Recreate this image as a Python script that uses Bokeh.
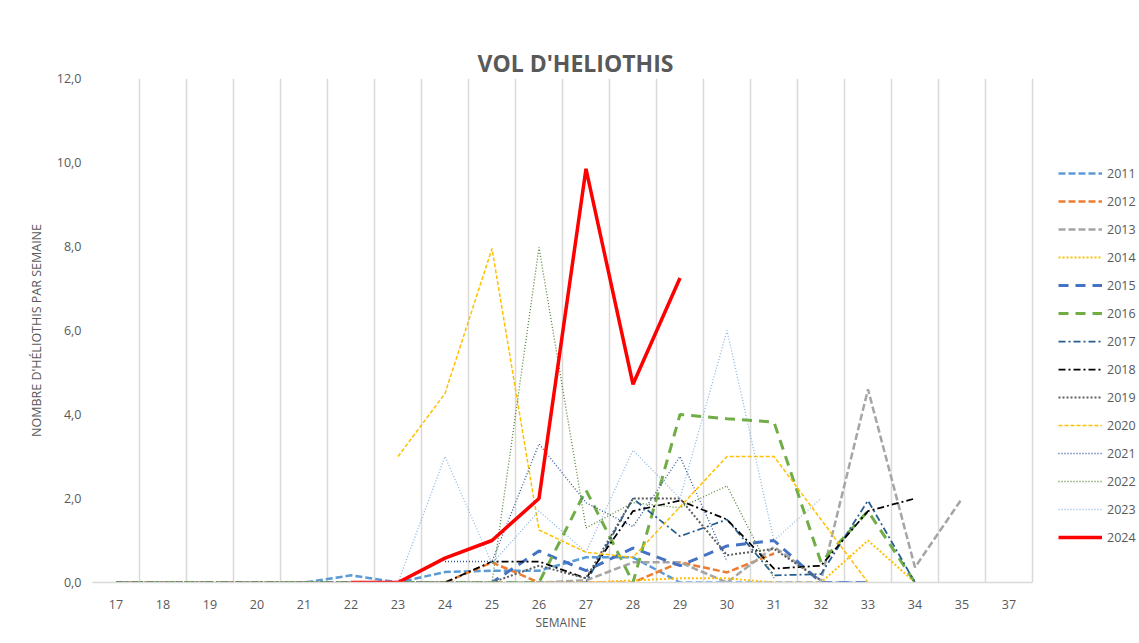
from bokeh.plotting import figure
from bokeh.models import (Range1d, FixedTicker, CustomJSTickFormatter, Legend, LegendItem, Title)
from bokeh.embed import file_html
from bokeh.resources import INLINE

N = float("nan")

weeks = ["17", "18", "19", "20", "21", "22", "23", "24", "25", "26",
         "27", "28", "29", "30", "31", "32", "33", "34", "35", "37"]

#          17 18 19 20 21 22    23    24    25    26    27    28    29    30    31    32    33   34    35   37
y2011 = [0, 0, 0, 0, 0, 0.17, 0.0, 0.25, 0.28, 0.28, 0.6, 0.6, 0, 0, 0, 0, 0, N, N, N]
y2012 = [0, 0, 0, 0, 0, 0, 0, 0, 0.48, 0, 0, 0, 0.48, 0.24, 0.69, N, N, N, N, N]
y2013 = [0, 0, 0, 0, 0, 0, 0, 0, 0, 0, 0.05, 0.48, 0.48, 0, 0.85, 0.05, 4.6, 0.36, 2.0, N]
y2014 = [0, 0, 0, 0, 0, 0, 0, 0, 0, 0, 0, 0.05, 0.1, 0.1, 0, 0, 1.0, 0, N, N]
y2015 = [0, 0, 0, 0, 0, 0, 0, 0, 0, 0.75, 0.28, 0.82, 0.4, 0.87, 1.0, 0, 0, N, N, N]
y2016 = [0, 0, 0, 0, 0, 0, 0, 0, 0, 0, 2.2, 0, 4.0, 3.9, 3.82, 0.48, 1.7, 0, N, N]
y2017 = [0, 0, 0, 0, 0, 0, 0, 0, 0, 0, 0, 2.0, 1.1, 1.5, 0.17, 0.2, 1.95, 0, N, N]
y2018 = [0, 0, 0, 0, 0, 0, 0, 0, 0.5, 0.5, 0.1, 1.7, 1.95, 1.5, 0.33, 0.4, 1.7, 2.0, N, N]
y2019 = [0, 0, 0, 0, 0, 0, 0, 0, 0, 0.4, 0.1, 2.0, 2.0, 0.65, 0.8, 0.05, N, N, N, N]
y2020 = [N, N, N, N, N, N, 3.0, 4.5, 7.95, 1.25, 0.72, 0.6, 1.8, 3.0, 3.0, 1.5, 0, N, N, N]
y2021 = [N, N, N, N, N, N, N, 0.5, 0.5, 3.3, 1.9, 1.33, 3.0, 0.5, N, N, N, N, N, N]
y2022 = [0, 0, 0, 0, 0, 0, 0, 0, 0, 7.98, 1.3, 1.9, 1.78, 2.3, 0.1, N, N, N, N, N]
y2023 = [N, N, N, N, N, N, 0, 3.0, 0.45, 1.7, 0.72, 3.15, 2.0, 6.0, 1.0, 2.0, N, N, N, N]
y2024 = [N, N, N, N, N, 0, 0, 0.58, 1.0, 2.0, 9.85, 4.72, 7.25, N, N, N, N, N, N, N]

years = ["2011", "2012", "2013", "2014", "2015", "2016", "2017",
         "2018", "2019", "2020", "2021", "2022", "2023", "2024"]
series = [y2011, y2012, y2013, y2014, y2015, y2016, y2017,
          y2018, y2019, y2020, y2021, y2022, y2023, y2024]

styles = {
    "2011": dict(line_color="#5B9BD5", line_width=2.5, line_dash="7 3"),
    "2012": dict(line_color="#ED7D31", line_width=2.5, line_dash="7 3"),
    "2013": dict(line_color="#A5A5A5", line_width=2.5, line_dash="7 3"),
    "2014": dict(line_color="#FFC000", line_width=2.0, line_dash="2 2"),
    "2015": dict(line_color="#4472C4", line_width=3.0, line_dash="10 7"),
    "2016": dict(line_color="#70AD47", line_width=3.0, line_dash="10 7"),
    "2017": dict(line_color="#255E91", line_width=1.75, line_dash="7 3 2 3"),
    "2018": dict(line_color="#000000", line_width=1.75, line_dash="7 3 2 3"),
    "2019": dict(line_color="#5E5E5E", line_width=2.0, line_dash="2 2"),
    "2020": dict(line_color="#FFC000", line_width=1.5, line_dash="4 2"),
    "2021": dict(line_color="#2F5597", line_width=1.3, line_dash="1 2"),
    "2022": dict(line_color="#548235", line_width=1.3, line_dash="1 2"),
    "2023": dict(line_color="#8AB6E0", line_width=1.3, line_dash="1 2"),
    "2024": dict(line_color="#FF0000", line_width=3.5),
}

x = list(range(len(weeks)))

FONT = "Open Sans"
GREY = "#595959"

# the frame is extended to the right so that the legend can sit inside it;
# one category = 47 px
W = 1139
n = len(weeks)
frame_w = W - 92
x_end = -0.5 + frame_w / 47.0

p = figure(width=W, height=635, output_backend="svg", toolbar_location=None,
           x_range=Range1d(-0.5, x_end), y_range=Range1d(0, 12),
           min_border_left=92, min_border_right=0, min_border_top=78, min_border_bottom=53)
p.outline_line_color = None
p.background_fill_color = "white"
p.border_fill_color = "white"

p.title = Title(text="VOL D'HELIOTHIS", align="left", offset=385,
                text_font=FONT, text_font_size="23px", text_font_style="bold",
                text_color=GREY, standoff=0)

# x axis
p.xaxis.bounds = (-0.5, n - 0.5)
p.xaxis.ticker = FixedTicker(ticks=x)
p.xaxis.major_label_overrides = {i: w for i, w in enumerate(weeks)}
p.xaxis.axis_line_color = "#D9D9D9"
p.xaxis.axis_line_width = 1.5
p.xaxis.major_tick_line_color = None
p.xaxis.minor_tick_line_color = None
p.xaxis.major_label_text_font = FONT
p.xaxis.major_label_text_font_size = "12.5px"
p.xaxis.major_label_text_color = GREY
p.xaxis.major_label_standoff = 11

p.add_layout(Title(text="SEMAINE", align="left", offset=443,
                   text_font=FONT, text_font_size="12px", text_font_style="normal",
                   text_color=GREY, standoff=0), "below")

# y axis
p.yaxis.ticker = FixedTicker(ticks=[0, 2, 4, 6, 8, 10, 12])
p.yaxis.formatter = CustomJSTickFormatter(code="return tick.toFixed(1).replace('.', ',');")
p.yaxis.axis_line_color = None
p.yaxis.major_tick_line_color = None
p.yaxis.minor_tick_line_color = None
p.yaxis.major_label_text_font = FONT
p.yaxis.major_label_text_font_size = "12.5px"
p.yaxis.major_label_text_color = GREY
p.yaxis.major_label_standoff = 5
p.yaxis.axis_label = "NOMBRE D'HÉLIOTHIS PAR SEMAINE"
p.yaxis.axis_label_text_font = FONT
p.yaxis.axis_label_text_font_size = "12.5px"
p.yaxis.axis_label_text_font_style = "normal"
p.yaxis.axis_label_text_color = GREY
p.yaxis.axis_label_standoff = 9

# grids
p.ygrid.grid_line_color = None
p.xgrid.ticker = FixedTicker(ticks=[i - 0.5 for i in range(n + 1)])
p.xgrid.grid_line_color = "#D9D9D9"
p.xgrid.grid_line_width = 1.5

items = []
for yr, ys in zip(years, series):
    r = p.line(x, ys, **styles[yr])
    items.append(LegendItem(label=yr, renderers=[r]))

legend = Legend(items=items, location=(966, 35), orientation="vertical",
                glyph_width=44, glyph_height=20, label_height=20, spacing=8,
                padding=0, margin=0, label_standoff=5,
                label_text_font=FONT, label_text_font_size="12.5px", label_text_color=GREY,
                border_line_color=None, background_fill_alpha=0)
p.add_layout(legend, "center")

open("out.html", "w").write(file_html(p, INLINE))
